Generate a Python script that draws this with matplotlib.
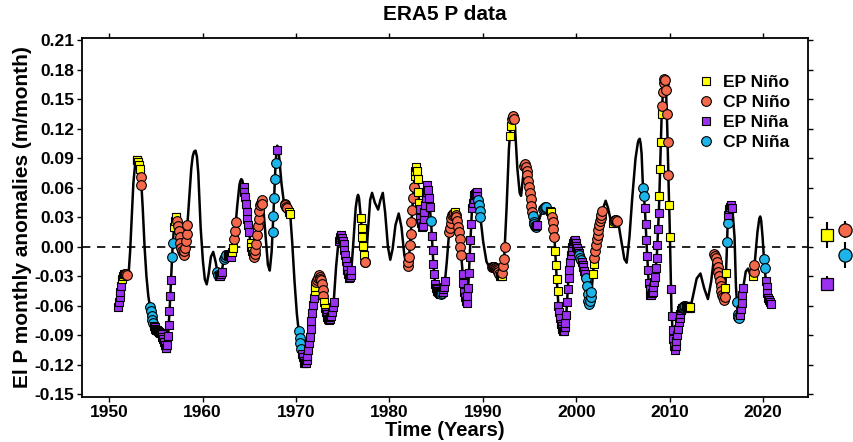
import numpy as np
import matplotlib.pyplot as plt
from matplotlib.lines import Line2D

plt.rcParams['font.family'] = ['Liberation Sans', 'DejaVu Sans']
plt.rcParams['font.weight'] = 'bold'
plt.rcParams['axes.unicode_minus'] = False

# smoothed P anomaly curve (year, m/month)
years = [1950.95, 1951.10, 1951.25, 1951.40, 1951.55, 1951.75, 1951.95, 1952.10, 1952.25, 1952.40,
         1952.60, 1952.80, 1952.90, 1953.00, 1953.15, 1953.30, 1953.45, 1953.60, 1953.80, 1954.00,
         1954.20, 1954.40, 1954.60, 1954.80, 1955.00, 1955.30, 1955.60, 1955.85, 1956.05, 1956.20,
         1956.35, 1956.50, 1956.65, 1956.80, 1956.95, 1957.10, 1957.25, 1957.45, 1957.70, 1957.95,
         1958.15, 1958.35, 1958.55, 1958.80, 1958.95, 1959.10, 1959.25, 1959.40, 1959.55, 1959.80,
         1960.05, 1960.25, 1960.45, 1960.65, 1960.90, 1961.15, 1961.40, 1961.65, 1961.85, 1962.05,
         1962.30, 1962.50, 1962.80, 1963.05, 1963.25, 1963.45, 1963.70, 1963.95, 1964.05, 1964.15,
         1964.25, 1964.35, 1964.55, 1964.80, 1965.05, 1965.30, 1965.50, 1965.70, 1965.90, 1966.15,
         1966.35, 1966.55, 1966.80, 1967.00, 1967.20, 1967.40, 1967.60, 1967.80, 1967.90, 1968.00,
         1968.10, 1968.20, 1968.45, 1968.70, 1968.95, 1969.20, 1969.40, 1969.60, 1969.85, 1970.10,
         1970.35, 1970.60, 1970.85, 1971.05, 1971.25, 1971.50, 1971.75, 1971.95, 1972.15, 1972.45,
         1972.75, 1973.00, 1973.20, 1973.50, 1973.80, 1974.05, 1974.30, 1974.55, 1974.85, 1975.10,
         1975.40, 1975.70, 1975.90, 1976.15, 1976.40, 1976.55, 1976.65, 1976.75, 1976.90, 1977.10,
         1977.35, 1977.50, 1977.70, 1977.95, 1978.15, 1978.45, 1978.80, 1979.05, 1979.30, 1979.55,
         1979.85, 1980.10, 1980.35, 1980.65, 1981.00, 1981.30, 1981.60, 1981.90, 1982.10, 1982.30,
         1982.50, 1982.70, 1982.85, 1983.00, 1983.15, 1983.35, 1983.55, 1983.80, 1984.10, 1984.30,
         1984.50, 1984.70, 1984.90, 1985.20, 1985.60, 1985.90, 1986.15, 1986.40, 1986.70, 1987.00,
         1987.25, 1987.50, 1987.75, 1988.00, 1988.25, 1988.45, 1988.65, 1988.85, 1989.10, 1989.35,
         1989.55, 1989.75, 1990.05, 1990.40, 1990.80, 1991.10, 1991.50, 1991.85, 1992.05, 1992.30,
         1992.55, 1992.80, 1993.00, 1993.15, 1993.30, 1993.45, 1993.70, 1993.95, 1994.10, 1994.30,
         1994.50, 1994.75, 1995.00, 1995.25, 1995.45, 1995.70, 1995.95, 1996.30, 1996.70, 1997.00,
         1997.30, 1997.50, 1997.70, 1997.90, 1998.10, 1998.35, 1998.65, 1998.90, 1999.15, 1999.40,
         1999.70, 1999.85, 2000.05, 2000.40, 2000.75, 2001.05, 2001.30, 2001.40, 2001.65, 2001.90,
         2002.15, 2002.50, 2002.80, 2003.15, 2003.40, 2003.70, 2003.95, 2004.25, 2004.50, 2004.85,
         2005.15, 2005.40, 2005.70, 2006.00, 2006.35, 2006.60, 2006.70, 2006.80, 2006.90, 2007.00,
         2007.15, 2007.35, 2007.55, 2007.75, 2007.95, 2008.20, 2008.45, 2008.65, 2008.85, 2009.00,
         2009.15, 2009.30, 2009.40, 2009.50, 2009.60, 2009.75, 2009.90, 2010.00, 2010.10, 2010.20,
         2010.35, 2010.55, 2010.75, 2011.00, 2011.25, 2011.60, 2011.95, 2012.20, 2012.50, 2012.90,
         2013.30, 2013.70, 2014.10, 2014.45, 2014.80, 2015.00, 2015.30, 2015.60, 2015.85, 2016.00,
         2016.10, 2016.20, 2016.35, 2016.55, 2016.75, 2016.95, 2017.10, 2017.30, 2017.50, 2017.70,
         2017.90, 2018.15, 2018.40, 2018.70, 2018.95, 2019.15, 2019.40, 2019.60, 2019.70, 2019.80,
         2019.95, 2020.10, 2020.30, 2020.55, 2020.80]
p_anom = [-0.061, -0.052, -0.042, -0.033, -0.028, -0.027, -0.029, -0.026, -0.005, 0.025,
          0.065, 0.085, 0.088, 0.089, 0.086, 0.078, 0.065, 0.040, 0.000, -0.030,
          -0.050, -0.062, -0.073, -0.080, -0.084, -0.086, -0.088, -0.095, -0.103, -0.102,
          -0.085, -0.060, -0.030, 0.000, 0.020, 0.031, 0.030, 0.017, 0.000, -0.009,
          0.000, 0.018, 0.045, 0.080, 0.092, 0.097, 0.098, 0.092, 0.075, 0.020,
          -0.015, -0.033, -0.038, -0.028, -0.010, -0.005, -0.015, -0.028, -0.030, -0.025,
          -0.012, -0.008, -0.009, -0.010, -0.004, 0.012, 0.040, 0.063, 0.067, 0.069,
          0.068, 0.064, 0.052, 0.030, 0.010, -0.004, -0.010, -0.002, 0.020, 0.042,
          0.048, 0.035, 0.005, -0.018, -0.024, -0.005, 0.035, 0.080, 0.095, 0.103,
          0.100, 0.092, 0.065, 0.046, 0.041, 0.037, 0.032, 0.005, -0.035, -0.068,
          -0.090, -0.107, -0.117, -0.119, -0.110, -0.090, -0.065, -0.048, -0.037, -0.029,
          -0.035, -0.053, -0.066, -0.075, -0.070, -0.055, -0.020, 0.005, 0.012, 0.003,
          -0.018, -0.032, -0.028, 0.005, 0.040, 0.050, 0.053, 0.050, 0.035, 0.012,
          -0.015, -0.015, 0.015, 0.048, 0.055, 0.045, 0.038, 0.048, 0.055, 0.035,
          0.000, -0.013, -0.002, 0.022, 0.034, 0.020, -0.008, -0.022, -0.012, 0.015,
          0.045, 0.072, 0.082, 0.075, 0.050, 0.028, 0.018, 0.040, 0.064, 0.045,
          0.020, -0.015, -0.040, -0.046, -0.048, -0.040, -0.015, 0.015, 0.032, 0.036,
          0.028, 0.010, -0.015, -0.045, -0.059, -0.040, 0.000, 0.040, 0.053, 0.056,
          0.045, 0.030, 0.005, -0.015, -0.022, -0.020, -0.022, -0.030, -0.030, -0.010,
          0.040, 0.100, 0.125, 0.132, 0.134, 0.122, 0.080, 0.055, 0.052, 0.070,
          0.086, 0.075, 0.058, 0.038, 0.024, 0.020, 0.025, 0.036, 0.041, 0.040,
          0.035, 0.025, 0.005, -0.030, -0.060, -0.078, -0.087, -0.075, -0.035, -0.010,
          0.005, 0.007, 0.000, -0.010, -0.020, -0.032, -0.055, -0.059, -0.045, -0.015,
          0.005, 0.025, 0.037, 0.047, 0.040, 0.027, 0.024, 0.028, 0.025, 0.005,
          -0.012, -0.016, 0.010, 0.050, 0.090, 0.106, 0.109, 0.110, 0.105, 0.095,
          0.060, 0.040, 0.000, -0.035, -0.050, -0.045, -0.030, -0.005, 0.035, 0.085,
          0.135, 0.160, 0.170, 0.172, 0.165, 0.120, 0.060, 0.025, -0.020, -0.065,
          -0.090, -0.106, -0.095, -0.075, -0.063, -0.060, -0.060, -0.063, -0.050, -0.032,
          -0.027, -0.042, -0.053, -0.035, -0.007, -0.012, -0.030, -0.048, -0.055, -0.035,
          -0.010, 0.020, 0.038, 0.043, 0.035, 0.010, -0.040, -0.071, -0.073, -0.058,
          -0.040, -0.025, -0.022, -0.030, -0.030, -0.012, 0.015, 0.029, 0.031, 0.027,
          0.010, -0.012, -0.035, -0.052, -0.058]

# event windows: (start, end, type) ; 0 EP Nino, 1 CP Nino, 2 EP Nina, 3 CP Nina
events = [(1950.95, 1951.35, 2), (1951.42, 1951.6, 0), (1951.67, 1952.0, 1),
          (1952.95, 1953.3, 0), (1953.38, 1953.5, 1),
          (1954.38, 1954.75, 3), (1954.8, 1956.7, 2), (1956.75, 1956.9, 3),
          (1956.95, 1957.2, 0), (1957.3, 1958.4, 1),
          (1961.6, 1961.75, 3), (1961.8, 1962.05, 2), (1962.3, 1962.6, 3),
          (1962.7, 1963.1, 2), (1963.2, 1963.35, 0), (1963.4, 1963.6, 1),
          (1964.4, 1965.05, 2), (1965.15, 1965.4, 0), (1965.5, 1966.45, 1),
          (1967.5, 1967.9, 3), (1967.95, 1968.0, 2), (1968.8, 1969.05, 1),
          (1969.25, 1969.4, 0), (1970.3, 1970.6, 3), (1970.65, 1971.95, 2),
          (1972.0, 1972.15, 0), (1972.2, 1973.0, 1), (1973.05, 1973.15, 0),
          (1973.2, 1974.1, 2), (1974.6, 1975.95, 2),
          (1976.95, 1977.3, 0), (1977.35, 1977.45, 1),
          (1981.95, 1982.65, 1), (1982.7, 1983.2, 0), (1983.25, 1984.4, 2),
          (1984.45, 1984.5, 3), (1984.55, 1985.5, 2), (1985.55, 1985.65, 3),
          (1985.7, 1986.0, 2), (1986.4, 1986.95, 1), (1987.0, 1987.05, 0),
          (1987.1, 1987.75, 1), (1987.85, 1989.45, 2), (1989.5, 1989.75, 3),
          (1991.0, 1991.8, 1), (1991.85, 1992.05, 0), (1992.1, 1992.4, 1),
          (1992.9, 1993.05, 0), (1993.1, 1993.35, 1),
          (1994.45, 1995.3, 1), (1995.35, 1995.7, 3), (1995.75, 1995.9, 2),
          (1996.5, 1996.75, 3), (1997.2, 1997.35, 0), (1997.4, 1997.7, 1),
          (1997.75, 1998.05, 0), (1998.1, 2000.3, 2), (2000.35, 2000.55, 3),
          (2000.6, 2001.0, 2), (2001.05, 2001.7, 3), (2001.8, 2001.9, 0),
          (2001.95, 2002.8, 1), (2003.95, 2004.0, 0), (2004.1, 2004.4, 1),
          (2007.15, 2007.3, 3), (2007.35, 2008.85, 2), (2008.9, 2009.15, 0),
          (2009.2, 2009.9, 1), (2009.95, 2010.05, 0), (2010.15, 2011.35, 2),
          (2011.4, 2011.7, 3), (2011.75, 2012.1, 2), (2012.15, 2012.25, 0),
          (2014.8, 2015.9, 1), (2015.95, 2016.1, 0), (2016.15, 2016.25, 3),
          (2016.3, 2016.7, 2), (2017.2, 2017.5, 3), (2017.55, 2017.9, 2),
          (2018.9, 2018.95, 0), (2019.0, 2019.15, 1), (2020.1, 2020.25, 3),
          (2020.3, 2020.8, 2)]

types = ['EP Niño', 'CP Niño', 'EP Niña', 'CP Niña']
colors = ['#FFFF00', '#F4694B', '#9B30F0', '#1DB4E9']
markers = ['s', 'o', 's', 'o']

# composite means shown right of the axes
mean_x = [2026.8, 2028.8, 2026.8, 2028.8]
means = [0.0123, 0.0174, -0.0372, -0.0082]
errs = [0.0135, 0.0085, 0.008, 0.0128]

yticks = [-0.15, -0.12, -0.09, -0.06, -0.03, 0.0, 0.03, 0.06, 0.09, 0.12, 0.15, 0.18, 0.21]
xticks = [1950, 1960, 1970, 1980, 1990, 2000, 2010, 2020]

fig = plt.figure(figsize=(8.54, 4.42), dpi=100)
ax = fig.add_axes([0.096, 0.102, 0.850, 0.812])

ax.axhline(0, color='black', lw=1.2, ls=(0, (5, 4)), zorder=1)
ax.plot(years, p_anom, color='black', lw=1.8, zorder=2)

for s, e, k in events:
    t = np.arange(s, e + 0.001, 1 / 12)
    v = np.interp(t, years, p_anom)
    ax.plot(t, v, ls='none', marker=markers[k], ms=7 if k % 2 else 6.3,
            mfc=colors[k], mec='black', mew=0.8, zorder=3)

for i in range(4):
    ax.errorbar(mean_x[i], means[i], yerr=errs[i], fmt=markers[i],
                ms=9.5 if i % 2 else 9, mfc=colors[i], mec='black', mew=0.9,
                ecolor='black', elinewidth=1.5, capsize=0, clip_on=False, zorder=4)

ax.set_xlim(1947.1, 2024.8)
ax.set_ylim(-0.1525, 0.2125)
ax.set_xticks(xticks)
ax.set_yticks(yticks)
ax.set_yticklabels(['%.2f' % y for y in yticks])
ax.tick_params(direction='out', length=3.5, width=1, labelsize=12.5,
               top=True, right=True, pad=2)
for sp in ax.spines.values():
    sp.set_linewidth(1.3)

ax.set_title('ERA5 P data', fontsize=15, fontweight='bold', pad=13)
ax.set_xlabel('Time (Years)', fontsize=14.5, fontweight='bold', labelpad=1)
ax.set_ylabel('El P monthly anomalies (m/month)', fontsize=15, fontweight='bold', labelpad=2)

handles = [Line2D([], [], ls='none', marker=markers[k], ms=7 if k % 2 else 6.3,
                  mfc=colors[k], mec='black', mew=0.8) for k in range(4)]
ax.legend(handles, types, loc='upper left', bbox_to_anchor=(0.847, 0.898),
          frameon=False, fontsize=12.5, handlelength=1.0, handletextpad=0.5,
          labelspacing=0.28, borderpad=0, borderaxespad=0)

fig.savefig('out.png', dpi=100)
